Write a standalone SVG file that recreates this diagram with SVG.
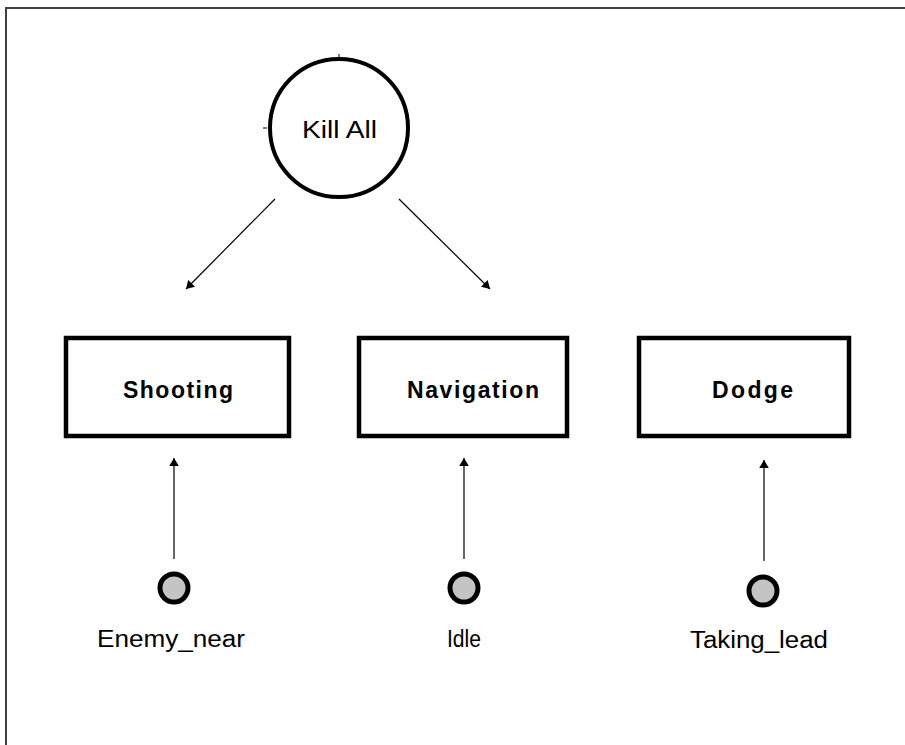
<svg xmlns="http://www.w3.org/2000/svg" width="905" height="745" viewBox="0 0 905 745">
  <style>
    .frame { fill: none; stroke: #404040; stroke-width: 2; }
    .goal { fill: #ffffff; stroke: #000000; stroke-width: 4; }
    .behaviour { fill: #ffffff; stroke: #000000; stroke-width: 4.5; }
    .trigger { fill: #c4c4c4; stroke: #000000; stroke-width: 5; }
    .tick { stroke: #000000; stroke-width: 1; }
    .link { fill: none; stroke: #000000; stroke-width: 1.2; marker-end: url(#head); }
    .title { font-family: "Liberation Sans", Arial, sans-serif; font-size: 23px; fill: #000000; }
    .bold { font-family: "Liberation Sans", Arial, sans-serif; font-size: 23px; font-weight: bold; fill: #000000; }
  </style>
  <defs>
    <marker id="head" viewBox="0 0 10 12" refX="10" refY="6" markerWidth="8" markerHeight="11" markerUnits="userSpaceOnUse" orient="auto">
      <path d="M0,0 L10,6 L0,12 z" fill="#000000"/>
    </marker>
  </defs>

  <rect width="905" height="745" fill="#ffffff"/>
  <path class="frame" d="M6,745 V8 H905"/>

  <g id="kill-all">
    <circle class="goal" cx="339" cy="128" r="69"/>
    <line class="tick" x1="339" y1="54" x2="339" y2="58"/>
    <line class="tick" x1="263" y1="128" x2="267" y2="128"/>
    <text class="title" x="302" y="138" textLength="75" lengthAdjust="spacingAndGlyphs">Kill All</text>
  </g>

  <g id="shooting">
    <rect class="behaviour" x="66" y="338" width="223" height="98"/>
    <text class="bold" x="123" y="398" textLength="110" lengthAdjust="spacing">Shooting</text>
  </g>

  <g id="navigation">
    <rect class="behaviour" x="359" y="338" width="208" height="98"/>
    <text class="bold" x="407" y="398" textLength="132" lengthAdjust="spacing">Navigation</text>
  </g>

  <g id="dodge">
    <rect class="behaviour" x="639" y="338" width="210" height="98"/>
    <text class="bold" x="712" y="398" textLength="81" lengthAdjust="spacing">Dodge</text>
  </g>

  <g id="enemy-near">
    <circle class="trigger" cx="174" cy="588" r="14"/>
    <text class="title" x="97" y="647" textLength="148" lengthAdjust="spacingAndGlyphs">Enemy_near</text>
  </g>

  <g id="idle">
    <circle class="trigger" cx="464" cy="588" r="14"/>
    <text class="title" x="447" y="647" textLength="34" lengthAdjust="spacingAndGlyphs">Idle</text>
  </g>

  <g id="taking-lead">
    <circle class="trigger" cx="763" cy="591" r="14"/>
    <text class="title" x="690" y="648" textLength="138" lengthAdjust="spacingAndGlyphs">Taking_lead</text>
  </g>

  <g id="connectors">
    <line class="link" x1="275" y1="199" x2="186" y2="289"/>
    <line class="link" x1="399" y1="199" x2="490" y2="289"/>
    <line class="link" x1="174" y1="559" x2="174" y2="458"/>
    <line class="link" x1="464" y1="559" x2="464" y2="458"/>
    <line class="link" x1="764" y1="561" x2="764" y2="460"/>
  </g>
</svg>
